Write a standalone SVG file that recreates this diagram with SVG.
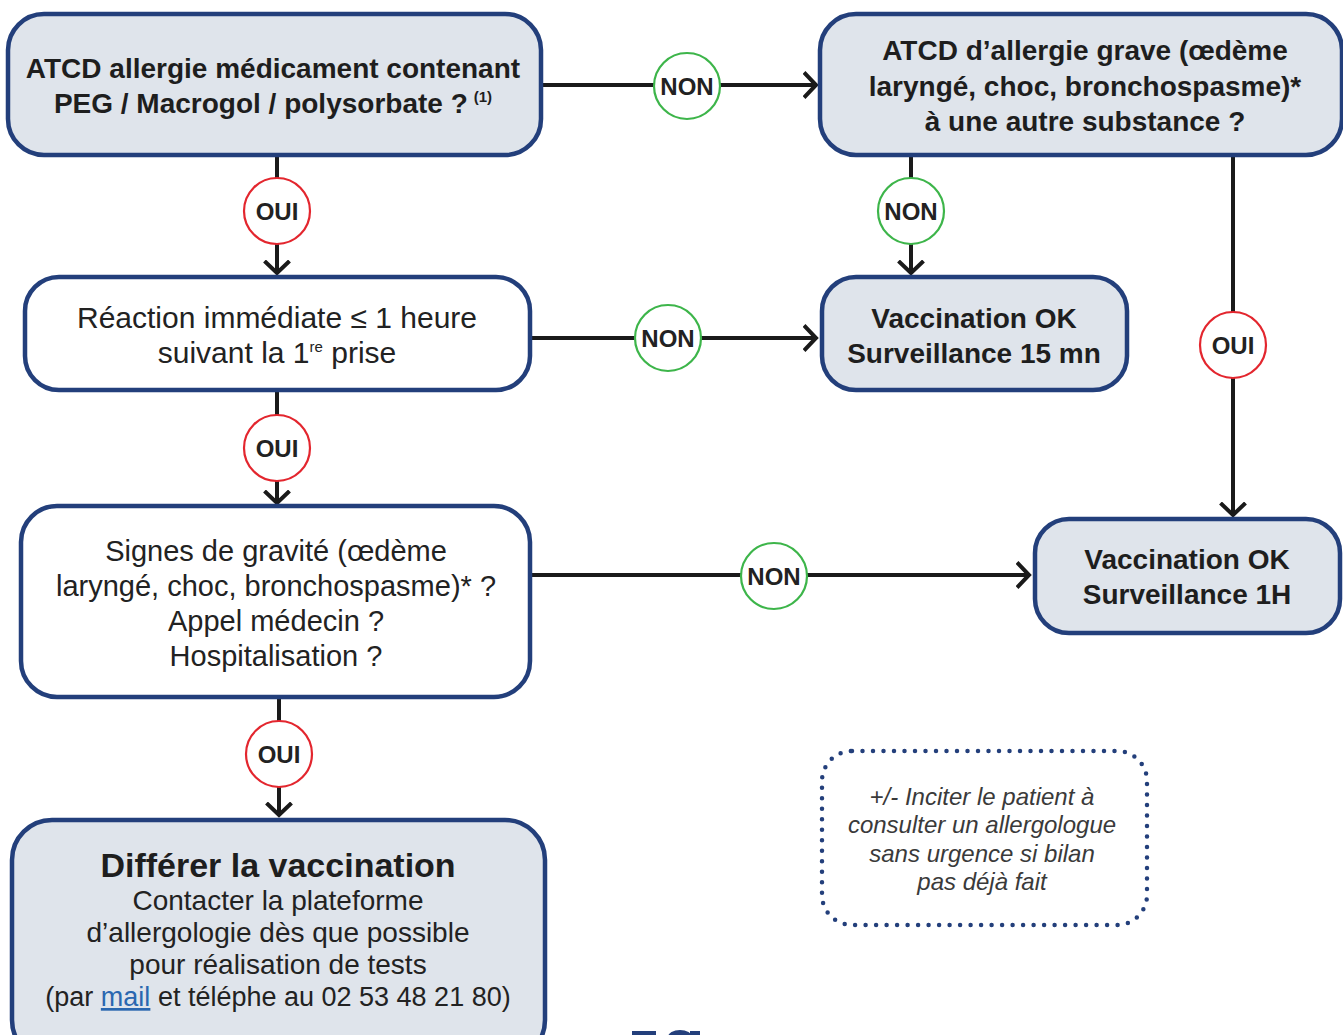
<svg xmlns="http://www.w3.org/2000/svg" width="1343" height="1035" viewBox="0 0 1343 1035">
<style>
.box{fill:#dfe4eb;stroke:#233f7b;stroke-width:4.5}
.wbox{fill:#ffffff;stroke:#233f7b;stroke-width:4.5}
.b{font-family:"Liberation Sans",Arial,sans-serif;font-weight:bold;font-size:28px;fill:#1e1e1e;text-anchor:middle}
.r{font-family:"Liberation Sans",Arial,sans-serif;font-size:29px;fill:#222;text-anchor:middle}
.r2{font-family:"Liberation Sans",Arial,sans-serif;font-size:28px;fill:#222;text-anchor:middle}
.it{font-family:"Liberation Sans",Arial,sans-serif;font-style:italic;font-size:24px;fill:#3a3a3a;text-anchor:middle}
.sup{font-size:15px}
.line{stroke:#1a1a1a;stroke-width:4;fill:none}
.non{fill:#fff;stroke:#3db54a;stroke-width:2.2}
.oui{fill:#fff;stroke:#e3262e;stroke-width:2.2}
.lbl{font-family:"Liberation Sans",Arial,sans-serif;font-weight:bold;font-size:24px;fill:#222;text-anchor:middle}
</style>
<defs>
<marker id="ah" viewBox="0 0 16 28" refX="13" refY="14" markerWidth="16" markerHeight="28" markerUnits="userSpaceOnUse" orient="auto">
<path d="M1,1.5 L13,14 L1,26.5" fill="none" stroke="#1a1a1a" stroke-width="4"/>
</marker>
</defs>
<rect width="1343" height="1035" fill="#ffffff"/>

<g id="connectors">
<line class="line" x1="541" y1="85" x2="816" y2="85" marker-end="url(#ah)"/>
<line class="line" x1="277" y1="155" x2="277" y2="273" marker-end="url(#ah)"/>
<line class="line" x1="911" y1="155" x2="911" y2="273" marker-end="url(#ah)"/>
<line class="line" x1="1233" y1="155" x2="1233" y2="515" marker-end="url(#ah)"/>
<line class="line" x1="530" y1="338" x2="816" y2="338" marker-end="url(#ah)"/>
<line class="line" x1="277" y1="390" x2="277" y2="503" marker-end="url(#ah)"/>
<line class="line" x1="530" y1="575" x2="1029" y2="575" marker-end="url(#ah)"/>
<line class="line" x1="279" y1="697" x2="279" y2="815" marker-end="url(#ah)"/>
<circle class="non" cx="687" cy="86" r="33"/><text class="lbl" x="687" y="95">NON</text>
<circle class="oui" cx="277" cy="211" r="33"/><text class="lbl" x="277" y="220">OUI</text>
<circle class="non" cx="911" cy="211" r="33"/><text class="lbl" x="911" y="220">NON</text>
<circle class="oui" cx="1233" cy="345" r="33"/><text class="lbl" x="1233" y="354">OUI</text>
<circle class="non" cx="668" cy="338" r="33"/><text class="lbl" x="668" y="347">NON</text>
<circle class="oui" cx="277" cy="448" r="33"/><text class="lbl" x="277" y="457">OUI</text>
<circle class="non" cx="774" cy="576" r="33"/><text class="lbl" x="774" y="585">NON</text>
<circle class="oui" cx="279" cy="754" r="33"/><text class="lbl" x="279" y="763">OUI</text>
</g>

<g id="n1">
<rect class="box" x="8" y="14" width="533" height="141" rx="36"/>
<text class="b" x="273" y="78">ATCD allergie médicament contenant</text>
<text class="b" x="273" y="113">PEG / Macrogol / polysorbate ?<tspan class="sup" dx="6" dy="-11">(1)</tspan></text>
</g>

<g id="n2">
<rect class="box" x="820" y="14" width="522" height="141" rx="36"/>
<text class="b" x="1085" y="60">ATCD d’allergie grave (œdème</text>
<text class="b" x="1085" y="96">laryngé, choc, bronchospasme)*</text>
<text class="b" x="1085" y="131">à une autre substance ?</text>
</g>

<g id="n3">
<rect class="wbox" x="25" y="277" width="505" height="113" rx="34"/>
<text class="r" x="277" y="328" style="font-size:30px">Réaction immédiate ≤ 1 heure</text>
<text class="r" x="277" y="363" style="font-size:30px">suivant la 1<tspan class="sup" dy="-11">re</tspan><tspan dy="11"> prise</tspan></text>
</g>

<g id="n4">
<rect class="box" x="822" y="277" width="305" height="113" rx="34"/>
<text class="b" x="974" y="328">Vaccination OK</text>
<text class="b" x="974" y="363">Surveillance 15 mn</text>
</g>

<g id="n5">
<rect class="wbox" x="21" y="506" width="509" height="191" rx="36"/>
<text class="r" x="276" y="561">Signes de gravité (œdème</text>
<text class="r" x="276" y="596">laryngé, choc, bronchospasme)* ?</text>
<text class="r" x="276" y="631">Appel médecin ?</text>
<text class="r" x="276" y="666">Hospitalisation ?</text>
</g>

<g id="n6">
<rect class="box" x="1035" y="519" width="305" height="114" rx="34"/>
<text class="b" x="1187" y="569">Vaccination OK</text>
<text class="b" x="1187" y="604">Surveillance 1H</text>
</g>

<g id="n7">
<rect class="box" x="12" y="820" width="533" height="240" rx="40"/>
<text class="b" x="278" y="877" style="font-size:34px">Différer la vaccination</text>
<text class="r2" x="278" y="910">Contacter la plateforme</text>
<text class="r2" x="278" y="942">d’allergologie dès que possible</text>
<text class="r2" x="278" y="974">pour réalisation de tests</text>
<text class="r2" x="278" y="1006" style="font-size:27px">(par <tspan fill="#2a67b0" text-decoration="underline">mail</tspan> et téléphe au 02 53 48 21 80)</text>
</g>

<g id="note">
<rect x="822" y="751" width="325" height="174" rx="30" fill="none" stroke="#233f7b" stroke-width="4.5" stroke-linecap="round" stroke-dasharray="0 10.5"/>
<text class="it" x="982" y="805">+/- Inciter le patient à</text>
<text class="it" x="982" y="833">consulter un allergologue</text>
<text class="it" x="982" y="862">sans urgence si bilan</text>
<text class="it" x="982" y="890">pas déjà fait</text>
</g>

<g id="fragment">
<rect x="632" y="1031" width="24" height="6" fill="#233f7b"/>
<ellipse cx="680" cy="1037" rx="12" ry="7" fill="#233f7b"/>
<rect x="690" y="1031" width="10" height="6" fill="#233f7b"/>
</g>
</svg>
